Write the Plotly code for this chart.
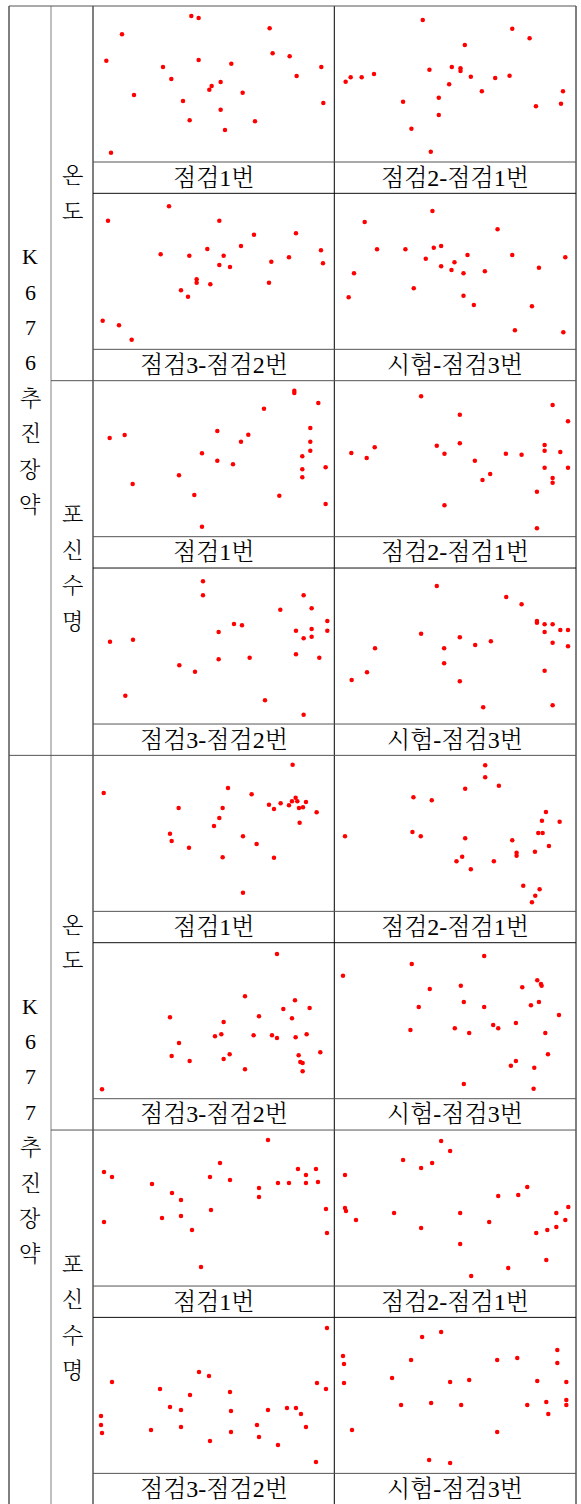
import plotly.graph_objects as go

W, H = 581, 1504

captions = ["점검1번", "점검2-점검1번", "점검3-점검2번", "시험-점검3번"]
block_labels = ["K676추진장약", "K677추진장약"]
group_labels = ["온도", "포신수명"]

# ---- K676 추진장약 / 온도 ----
k676_temp_c1_x = [40, 54, 87, 123, 210, 235, 270, 290, 295, 317, 317, 349, 356, 383, 383, 396, 415, 449, 486, 530, 539, 590, 611, 685, 691]
k676_temp_c1_y = [164, 440, 85, 267, 183, 219, 285, 343, 30, 36, 162, 251, 240, 228, 311, 372, 173, 260, 346, 67, 142, 151, 210, 183, 291]
k676_temp_c21_x = [34, 49, 82, 119, 206, 231, 265, 285, 289, 313, 313, 344, 352, 378, 378, 391, 409, 442, 482, 525, 533, 585, 604, 679, 685]
k676_temp_c21_y = [227, 214, 214, 204, 287, 368, 42, 191, 437, 275, 327, 235, 183, 187, 195, 117, 212, 256, 216, 209, 68, 97, 301, 293, 256]
k676_temp_c32_x = [29, 45, 78, 116, 203, 228, 264, 285, 289, 311, 311, 343, 352, 379, 379, 392, 411, 444, 483, 528, 535, 588, 609, 684, 690]
k676_temp_c32_y = [382, 82, 396, 439, 183, 39, 291, 310, 187, 258, 268, 167, 273, 82, 215, 187, 221, 158, 124, 268, 205, 192, 120, 171, 210]
k676_temp_t3_x = [43, 59, 91, 128, 213, 238, 274, 294, 298, 320, 320, 351, 360, 387, 387, 399, 418, 451, 489, 533, 541, 592, 613, 686, 692]
k676_temp_t3_y = [312, 240, 86, 168, 168, 285, 196, 53, 163, 158, 219, 230, 207, 240, 307, 185, 335, 234, 108, 185, 411, 339, 223, 417, 192]

# ---- K676 추진장약 / 포신수명 ----
k676_life_c1_x = [50, 95, 119, 258, 304, 327, 327, 373, 373, 420, 444, 466, 513, 559, 604, 604, 628, 628, 628, 652, 652, 652, 676, 698, 698]
k676_life_c1_y = [172, 163, 310, 284, 343, 218, 438, 151, 240, 251, 183, 162, 84, 345, 30, 37, 227, 266, 290, 142, 183, 210, 67, 260, 370]
k676_life_c21_x = [51, 97, 121, 260, 307, 330, 330, 376, 376, 421, 444, 467, 514, 561, 607, 607, 630, 630, 630, 654, 654, 654, 677, 700, 700]
k676_life_c21_y = [217, 232, 200, 47, 195, 219, 374, 102, 188, 240, 298, 280, 219, 222, 333, 443, 193, 210, 261, 73, 292, 306, 214, 122, 261]
k676_life_c32_x = [51, 97, 120, 259, 306, 330, 330, 377, 377, 423, 447, 470, 516, 562, 609, 609, 632, 632, 632, 656, 656, 656, 679, 703, 703]
k676_life_c32_y = [221, 383, 215, 292, 311, 40, 82, 192, 274, 168, 172, 269, 397, 125, 188, 259, 82, 211, 440, 121, 183, 206, 269, 159, 188]
k676_life_t3_x = [52, 98, 122, 260, 307, 329, 329, 376, 376, 422, 446, 469, 515, 561, 607, 607, 630, 630, 630, 654, 654, 654, 677, 700, 700]
k676_life_t3_y = [336, 313, 241, 197, 54, 241, 286, 208, 340, 231, 418, 220, 87, 109, 159, 164, 169, 192, 308, 169, 224, 412, 186, 186, 235]

# ---- K677 추진장약 / 온도 ----
k677_temp_c1_x = [32, 231, 236, 257, 288, 363, 379, 389, 389, 405, 450, 450, 476, 491, 528, 543, 543, 563, 588, 597, 599, 608, 613, 618, 620, 630, 639, 671]
k677_temp_c1_y = [113, 235, 257, 158, 277, 212, 188, 158, 306, 98, 243, 412, 117, 266, 148, 161, 307, 144, 150, 138, 28, 127, 138, 158, 202, 156, 140, 171]
k677_temp_c21_x = [32, 234, 237, 259, 292, 366, 383, 392, 392, 409, 452, 452, 478, 493, 533, 546, 546, 566, 592, 601, 602, 611, 615, 622, 624, 634, 643, 675]
k677_temp_c21_y = [243, 230, 126, 243, 135, 318, 304, 100, 249, 342, 30, 66, 318, 91, 255, 292, 301, 391, 441, 289, 421, 233, 402, 196, 233, 170, 272, 199]
k677_temp_c32_x = [27, 231, 236, 258, 290, 366, 385, 392, 392, 410, 456, 456, 482, 498, 537, 552, 552, 571, 597, 606, 608, 617, 622, 629, 629, 641, 650, 682]
k677_temp_c32_y = [440, 224, 340, 301, 355, 281, 275, 238, 349, 335, 161, 380, 278, 221, 278, 34, 286, 199, 227, 173, 284, 338, 358, 361, 386, 275, 196, 329]
k677_temp_t3_x = [26, 228, 232, 253, 286, 361, 379, 388, 388, 404, 449, 449, 476, 491, 529, 544, 544, 563, 589, 597, 599, 608, 613, 619, 621, 632, 640, 673]
k677_temp_t3_y = [99, 262, 64, 193, 139, 257, 129, 178, 424, 271, 40, 193, 247, 257, 369, 241, 355, 134, 188, 438, 375, 113, 178, 124, 129, 271, 335, 217]

# ---- K677 추진장약 / 포신수명 ----
k677_life_c1_x = [33, 57, 33, 177, 207, 237, 264, 264, 297, 324, 351, 354, 381, 411, 498, 498, 525, 555, 588, 615, 639, 639, 669, 675, 699, 702]
k677_life_c1_y = [126, 141, 276, 162, 264, 189, 210, 258, 300, 411, 141, 240, 99, 150, 174, 201, 30, 159, 159, 117, 135, 159, 117, 156, 237, 309]
k677_life_c21_x = [32, 32, 35, 65, 179, 206, 260, 260, 293, 320, 347, 377, 377, 410, 464, 491, 521, 551, 578, 605, 635, 638, 665, 665, 692, 701]
k677_life_c21_y = [135, 234, 243, 270, 249, 90, 114, 294, 99, 33, 63, 249, 342, 438, 276, 198, 414, 195, 171, 309, 390, 300, 249, 291, 270, 231]
k677_life_c32_x = [24, 24, 27, 57, 174, 201, 231, 264, 264, 291, 318, 348, 351, 411, 414, 414, 492, 498, 525, 555, 582, 609, 624, 639, 669, 672, 699, 702]
k677_life_c32_y = [296, 323, 347, 194, 338, 215, 269, 278, 329, 233, 164, 176, 371, 224, 281, 344, 323, 359, 278, 383, 272, 272, 290, 329, 434, 197, 215, 32]
k677_life_t3_x = [26, 29, 29, 53, 173, 200, 230, 263, 284, 290, 320, 347, 347, 380, 404, 488, 488, 548, 578, 608, 635, 641, 668, 668, 695, 695, 695]
k677_life_t3_y = [116, 140, 197, 338, 182, 263, 128, 59, 428, 257, 44, 194, 437, 263, 188, 128, 344, 122, 263, 191, 254, 290, 98, 137, 194, 248, 263]

panel_data = [
    (k676_temp_c1_x, k676_temp_c1_y), (k676_temp_c21_x, k676_temp_c21_y),
    (k676_temp_c32_x, k676_temp_c32_y), (k676_temp_t3_x, k676_temp_t3_y),
    (k676_life_c1_x, k676_life_c1_y), (k676_life_c21_x, k676_life_c21_y),
    (k676_life_c32_x, k676_life_c32_y), (k676_life_t3_x, k676_life_t3_y),
    (k677_temp_c1_x, k677_temp_c1_y), (k677_temp_c21_x, k677_temp_c21_y),
    (k677_temp_c32_x, k677_temp_c32_y), (k677_temp_t3_x, k677_temp_t3_y),
    (k677_life_c1_x, k677_life_c1_y), (k677_life_c21_x, k677_life_c21_y),
    (k677_life_c32_x, k677_life_c32_y), (k677_life_t3_x, k677_life_t3_y),
]

# ---- geometry (pixels) ----
X_LEFT, X_C1, X_C2, X_MID, X_RIGHT = 9, 51, 93, 334.3, 576
TOP = 6
ROW_PITCH = 187.34
PLOT_H = 156
row_tops = [TOP + ROW_PITCH * r for r in range(8)]
BOTTOM = TOP + ROW_PITCH * 8

def fx(x):
    return x / W

def fy(y):
    return 1 - y / H

fig = go.Figure()
layout = dict(
    width=W, height=H, margin=dict(l=0, r=0, t=0, b=0),
    paper_bgcolor="white", plot_bgcolor="rgba(0,0,0,0)", showlegend=False,
)

XR = [0, 724]
YR = [468, 0]
for i, (xs, ys) in enumerate(panel_data):
    r, c = divmod(i, 2)
    x0 = X_C2 if c == 0 else X_MID
    x1 = X_MID if c == 0 else X_RIGHT
    yt = row_tops[r]
    yb = yt + PLOT_H
    n = i + 1
    sfx = "" if n == 1 else str(n)
    layout["xaxis" + sfx] = dict(domain=[fx(x0), fx(x1)], range=XR, visible=False,
                                 fixedrange=True, anchor="y" + sfx)
    layout["yaxis" + sfx] = dict(domain=[fy(yb), fy(yt)], range=YR, visible=False,
                                 fixedrange=True, anchor="x" + sfx)
    fig.add_trace(go.Scatter(
        x=xs, y=ys, mode="markers",
        marker=dict(color="#ff0000", size=4.5, line=dict(width=0)),
        xaxis="x" + sfx, yaxis="y" + sfx, hoverinfo="skip",
    ))

shapes = []
def line(x0, y0, x1, y1, color="#000000", w=1):
    shapes.append(dict(type="line", xref="paper", yref="paper",
                       x0=fx(x0), y0=fy(y0), x1=fx(x1), y1=fy(y1),
                       line=dict(color=color, width=w)))

# vertical lines
line(X_LEFT, TOP, X_LEFT, BOTTOM)
line(X_C1, TOP, X_C1, BOTTOM, color="#808080")
line(X_C2, TOP, X_C2, BOTTOM)
line(X_MID, TOP, X_MID, BOTTOM)
line(X_RIGHT, TOP, X_RIGHT, BOTTOM)
# horizontal lines
for r in range(8):
    yt = row_tops[r]
    if r % 4 == 0:
        xs0 = X_LEFT
    elif r % 2 == 0:
        xs0 = X_C1
    else:
        xs0 = X_C2
    line(xs0, yt, X_RIGHT, yt, color="#555555" if r % 2 == 0 else "#111111")
    line(X_C2, yt + PLOT_H, X_RIGHT, yt + PLOT_H, color="#555555")
line(X_LEFT, BOTTOM, X_RIGHT, BOTTOM)

annotations = []
FONT = "Liberation Serif, Noto Serif CJK KR, Noto Sans CJK KR"
def text(x, y, s, size=24):
    annotations.append(dict(xref="paper", yref="paper", x=fx(x), y=fy(y), text=s,
                            showarrow=False, xanchor="center", yanchor="middle",
                            font=dict(family=FONT, size=size, color="#000000", weight=300)))

# captions
for r in range(8):
    cy = row_tops[r] + PLOT_H + (ROW_PITCH - PLOT_H) / 2
    text((X_C2 + X_MID) / 2, cy, captions[(r % 2) * 2])
    text((X_MID + X_RIGHT) / 2, cy, captions[(r % 2) * 2 + 1])

STEP = 35.4
# block labels (vertical, one char per line)
for b, lab in enumerate(block_labels):
    cy = TOP + ROW_PITCH * (4 * b + 2)
    n = len(lab)
    for k, ch in enumerate(lab):
        text((X_LEFT + X_C1) / 2, cy + (k - (n - 1) / 2) * STEP, ch, size=22)
# group labels
for g in range(4):
    lab = group_labels[g % 2]
    cy = TOP + ROW_PITCH * (2 * g + 1)
    n = len(lab)
    for k, ch in enumerate(lab):
        text((X_C1 + X_C2) / 2, cy + (k - (n - 1) / 2) * STEP, ch, size=22)

layout["shapes"] = shapes
layout["annotations"] = annotations
fig.update_layout(**layout)
fig.write_html("out.html", config={"displayModeBar": False},
               post_script="document.body.style.margin='0';document.body.style.overflow='hidden';")
